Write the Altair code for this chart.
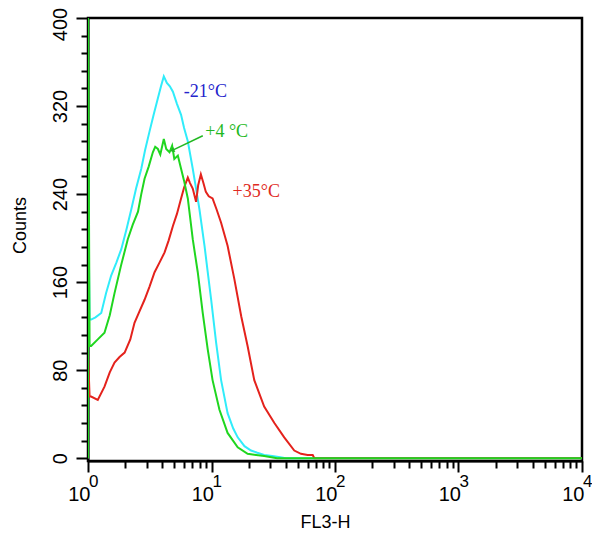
import altair as alt
import pandas as pd

# ---- data ----
cyan_x = [1, 1, 1.03, 1.06, 1.15, 1.28, 1.4, 1.54, 1.7, 1.86, 2.05, 2.24, 2.45, 2.7, 2.9, 3.15, 3.4, 3.68, 3.9, 4.11,
          4.35, 4.6, 4.87, 5.25, 5.67, 6.0, 6.43, 7.05, 7.5, 7.99, 8.78, 9.3, 9.94, 10.9, 11.96, 13.5, 15, 16.3, 18.5,
          20.9, 23.5, 26.7, 31, 36, 40, 10000]
cyan_y = [0, 258, 126, 126, 128, 132, 150, 166, 178, 190, 208, 226, 245, 263, 280, 297, 312, 327, 338, 347,
          341, 338, 333, 322, 312, 300, 288, 263, 245, 226, 193, 170, 144, 105, 71, 41, 27, 19, 11,
          7, 5, 3, 2, 1, 0, 0]

green_x = [1, 1, 1.03, 1.06, 1.2, 1.36, 1.5, 1.64, 1.85, 2.1, 2.3, 2.54, 2.7, 2.87, 3.1, 3.35, 3.5, 3.68, 3.85, 4.11,
           4.3, 4.57, 4.8, 5.0, 5.34, 5.67, 6.0, 6.43, 7.05, 7.74, 8.49, 9.32, 10.2, 11.6, 13.5, 16.3, 19.6, 26.7,
           34, 10000]
green_y = [0, 420, 102, 102, 108, 114, 130, 150, 175, 199, 212, 224, 240, 254, 265, 278, 283, 281, 276, 290,
           281, 278, 284, 272, 275, 263, 252, 236, 199, 169, 132, 99, 71, 44, 23, 10, 4, 2,
           0, 0]

red_x = [1, 1, 1.03, 1.06, 1.2, 1.36, 1.5, 1.64, 1.8, 1.98, 2.2, 2.38, 2.6, 2.87, 3.15, 3.46, 3.8, 4.17, 4.5, 4.87,
         5.25, 5.67, 6.0, 6.43, 6.7, 7.05, 7.5, 7.8, 8.2, 8.6, 9.0, 9.5, 10.2, 11.0, 11.96, 13.5, 15.3, 17.4, 19.6,
         22.2, 26.7, 32.3, 38.8, 46.8, 53, 60, 66, 68, 10000]
red_y = [0, 96, 56, 56, 53, 65, 78, 87, 92, 96, 108, 123, 133, 144, 156, 169, 178, 187, 198, 211,
         222, 236, 246, 255, 250, 245, 233, 248, 258, 250, 242, 238, 236, 226, 214, 193, 163, 129, 102,
         71, 47, 32, 19, 7, 4, 3, 3, 0, 0]

label_text = ["-21°C", "+4 °C", "+35°C"]
label_x = [5.97, 8.9, 14.8]
label_y = [333, 296, 242]
label_color = ["#2424cc", "#22b822", "#e02a22"]

arrow_x = [8.5]
arrow_y = [293]
arrow_x2 = [4.86]
arrow_y2 = [280]

decades = [1, 10, 100, 1000, 10000]
exponents = ["0", "1", "2", "3", "4"]

x_ticks = [k * 10 ** d for d in range(4) for k in range(1, 10)] + [10000]
y_ticks = list(range(0, 401, 16))

# ---- scales / axes ----
xs = alt.Scale(type="log", domain=[1, 10000], nice=False)
ys = alt.Scale(domain=[-2.5, 400], nice=False)

major_x = "indexof([1,10,100,1000,10000], datum.value) >= 0"
major_y = "datum.value % 80 == 0"

xaxis = alt.Axis(
    values=x_ticks, tickCount=60,
    labelExpr=major_x + " ? '10' : ''",
    title="FL3-H",
    grid=False,
    tickSize={"condition": {"test": major_x, "value": 11}, "value": 7},
    tickWidth=2, tickColor="black",
    domainColor="black", domainWidth=2,
    labelFont="Liberation Sans", labelFontSize=20, labelColor="black",
    labelAlign="right", labelBaseline="top", labelOffset=2, labelPadding=12,
    labelOverlap=False, labelFlush=False,
    titleFont="Liberation Sans", titleFontSize=18, titleFontWeight="normal", titleColor="black",
    titleX=237, titleY=52, titleBaseline="top",
)
yaxis = alt.Axis(
    values=y_ticks, tickCount=60,
    labelExpr=major_y + " ? datum.label : ''",
    title="Counts",
    grid=False,
    tickSize={"condition": {"test": major_y, "value": 12}, "value": 7},
    tickWidth=2, tickColor="black",
    domainColor="black", domainWidth=2,
    labelFont="Liberation Sans", labelFontSize=20, labelColor="black",
    labelAngle=270, labelAlign="center", labelBaseline="alphabetic", labelPadding=10,
    labelOffset={"condition": {"test": "datum.value == 400", "value": 6}, "value": 0},
    labelOverlap=False, labelFlush=False,
    titleFont="Liberation Sans", titleFontSize=18, titleFontWeight="normal", titleColor="black",
    titleX=-63, titleY=207, titleAngle=270, titleAlign="center", titleBaseline="alphabetic",
)


def line_layer(xv, yv, color):
    df = pd.DataFrame({"x": xv, "y": yv, "i": range(len(xv))})
    return alt.Chart(df).mark_line(color=color, strokeWidth=2, clip=True).encode(
        x=alt.X("x:Q", scale=xs, axis=xaxis),
        y=alt.Y("y:Q", scale=ys, axis=yaxis),
        order=alt.Order("i:Q"),
    )


cyan = line_layer(cyan_x, cyan_y, "#30ecfa")
red = line_layer(red_x, red_y, "#e4221c")
green = line_layer(green_x, green_y, "#1fd61f")

lab_df = pd.DataFrame({"t": label_text, "x": label_x, "y": label_y, "c": label_color})
labels = alt.Chart(lab_df).mark_text(
    align="left", baseline="middle", font="Liberation Serif", fontSize=18
).encode(
    x=alt.X("x:Q", scale=xs), y=alt.Y("y:Q", scale=ys), text="t:N",
    color=alt.Color("c:N", scale=None),
)

arr_df = pd.DataFrame({"x": arrow_x, "y": arrow_y, "x2": arrow_x2, "y2": arrow_y2})
arrow = alt.Chart(arr_df).mark_rule(color="#22b822", strokeWidth=1.5).encode(
    x=alt.X("x:Q", scale=xs), y=alt.Y("y:Q", scale=ys), x2="x2:Q", y2="y2:Q"
)
head = alt.Chart(arr_df).mark_point(
    shape="triangle", filled=True, color="#22b822", size=30, angle=247, opacity=1
).encode(x=alt.X("x2:Q", scale=xs), y=alt.Y("y2:Q", scale=ys))

exp_df = pd.DataFrame({"x": decades, "t": exponents})
exps = alt.Chart(exp_df).mark_text(
    align="left", baseline="top", dx=1, fontSize=17, font="Liberation Sans", color="black", clip=False
).encode(x=alt.X("x:Q", scale=xs), y=alt.value(456), text="t:N")

chart = alt.layer(cyan, red, green, labels, arrow, head, exps).properties(
    width=494, height=443,
    autosize=alt.AutoSizeParams(type="none"),
    padding={"left": 80, "top": 10, "right": 10, "bottom": 69},
).configure(background="white").configure_view(stroke="black", strokeWidth=2.5, strokeOpacity=1)

chart.save("out.html", embed_options={"renderer": "svg", "actions": False})
